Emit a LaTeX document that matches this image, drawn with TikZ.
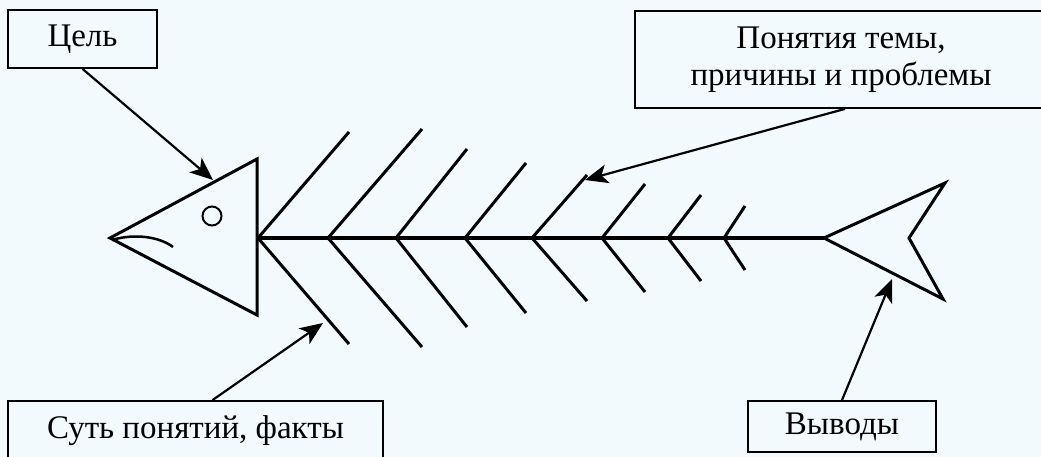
\documentclass[tikz,border=0pt]{standalone}
\usepackage{fontspec}
\setmainfont{Liberation Serif}
\usetikzlibrary{arrows.meta}
\definecolor{bgblue}{RGB}{243,250,254}
\begin{document}
\begin{tikzpicture}[x=1pt,y=-1pt,
  >={Stealth[length=23pt,width=19pt,inset=6pt]},
  labelbox/.style={draw,line width=1.8pt,inner sep=0pt,align=center,
    font=\fontsize{33}{37}\selectfont},
  bone/.style={line width=3pt},
  pointer/.style={->,line width=2.2pt}]
\useasboundingbox (0,0) rectangle (1041,457);
\fill[bgblue] (0,0) rectangle (1041,457);
\clip (0,0) rectangle (1041,457);
\draw[bone,line width=3.5pt] (257,238) -- (824,238);
\draw[bone] (110,238) -- (257,159) -- (257,315) -- cycle;
\draw[line width=2pt] (212,216) circle (9.5);
\draw[line width=2.5pt] (112,240) .. controls (135,233) and (160,237) .. (173,247);
\draw[bone] (824,238) -- (945,183) -- (909,238) -- (943,299) -- cycle;
\foreach \x/\dx/\dy in {258/91/106,328/94/109,396/71/89,465/61/75,
                        532/55/63,602/43/54,668/33/43,724/21/32}
  \draw[bone] (\x+\dx,238-\dy) -- (\x,238) -- (\x+\dx,238+\dy);
\node[labelbox,minimum width=149pt,minimum height=58pt] (goal) at (82.5,39) {Цель};
\node[labelbox,minimum width=412pt,minimum height=97pt] (themes) at (841,59.5)
  {Понятия темы,\\причины и проблемы};
\node[labelbox,minimum width=375pt,minimum height=60pt] (facts) at (195.5,431) {Суть понятий, факты};
\node[labelbox,minimum width=188pt,minimum height=51pt] (concl) at (842,426.5) {Выводы};
\coordinate (headtip) at (213,180);
\coordinate (bonetip) at (585,180);
\coordinate (lowtip) at (323,323);
\coordinate (tailtip) at (892,279);
\draw[pointer] (goal.south) -- (headtip);
\draw[pointer] ([xshift=4pt]themes.south) -- (bonetip);
\draw[pointer] ([xshift=17pt]facts.north) -- (lowtip);
\draw[pointer] (concl.north) -- (tailtip);
\end{tikzpicture}
\end{document}
